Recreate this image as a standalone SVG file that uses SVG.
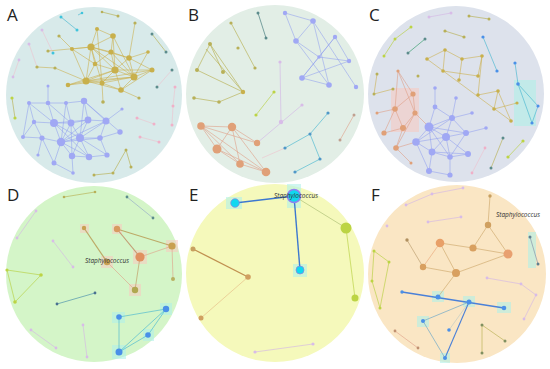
<svg xmlns="http://www.w3.org/2000/svg" width="550" height="369" viewBox="0 0 550 369">
<style>
.bg{stroke:none}
.lbl{font-family:"Open Sans","Liberation Sans",sans-serif;font-size:17px;fill:#222}
.sp{font-family:"Open Sans","Liberation Sans",sans-serif;font-size:6.5px;font-style:italic;fill:#333}
.eo{stroke:#ccae48;stroke-width:0.8;opacity:0.7}
.eb{stroke:#8e9cf0;stroke-width:0.75;opacity:0.7}
.es{stroke:#e0a088;stroke-width:0.8;opacity:0.75}
.et{stroke:#48b8d0;stroke-width:0.8;opacity:0.8}
.el{stroke:#d4b8e6;stroke-width:0.8;opacity:0.8}
.eg{stroke:#b8b050;stroke-width:0.8;opacity:0.8}
.ey{stroke:#b8d040;stroke-width:0.8;opacity:0.8}
.ep{stroke:#f4b8c8;stroke-width:0.6;opacity:0.8}
.no{fill:#c8b04c}
.nb{fill:#a0a8f4}
.ns{fill:#e0a078}
.nt{fill:#40c4dc}
.nl{fill:#d8bce8}
.ng{fill:#b8b058}
.ny{fill:#bcd444}
.nk{fill:#5c8c8c}
.np{fill:#f0b0c8}
.nc{fill:#10d8f0}
.nd{fill:#4a90e8}
.hl{fill:#b0f0e8;opacity:0.6}
.hs{fill:#f8c8c0;opacity:0.55}
</style>
<g id="panels">
<circle class="bg" cx="94" cy="95" r="88" fill="#d8eaea"/>
<circle class="bg" cx="275" cy="94" r="89" fill="#e2eee6"/>
<circle class="bg" cx="456" cy="94" r="88" fill="#dde2ec"/>
<circle class="bg" cx="94" cy="274" r="88" fill="#d4f5c8"/>
<circle class="bg" cx="275" cy="273" r="89" fill="#f5f9bb"/>
<circle class="bg" cx="457" cy="274" r="89" fill="#fae6c4"/>
</g>
<g id="panel-labels">
<text class="lbl" x="7" y="21">A</text>
<text class="lbl" x="188" y="21">B</text>
<text class="lbl" x="369" y="21">C</text>
<text class="lbl" x="7" y="201">D</text>
<text class="lbl" x="189" y="201">E</text>
<text class="lbl" x="371" y="201">F</text>
</g>
<g id="highlights">
<rect class="hs" x="80" y="224" width="9" height="9"/>
<rect class="hs" x="112" y="224" width="10" height="10"/>
<rect class="hs" x="166" y="240" width="12" height="12"/>
<rect class="hs" x="133" y="250" width="14" height="14"/>
<rect class="hs" x="101" y="256" width="12" height="12"/>
<rect class="hs" x="129" y="284" width="12" height="12"/>
<rect class="hs" x="391" y="88" width="28" height="44"/>
<rect class="hl" x="112" y="312" width="13" height="11"/>
<rect class="hl" x="160" y="303" width="12" height="12"/>
<rect class="hl" x="143" y="329" width="11" height="12"/>
<rect class="hl" x="112" y="345" width="14" height="14"/>
<rect class="hl" x="226" y="197" width="16" height="12"/>
<rect class="hl" x="287" y="184" width="14" height="24"/>
<rect class="hl" x="293" y="264" width="14" height="13"/>
<rect class="hl" x="432" y="291" width="12" height="11"/>
<rect class="hl" x="463" y="296" width="12" height="11"/>
<rect class="hl" x="497" y="302" width="14" height="11"/>
<rect class="hl" x="417" y="316" width="12" height="11"/>
<rect class="hl" x="440" y="353" width="10" height="10"/>
<rect class="hl" x="528" y="232" width="8" height="36"/>
<rect class="hl" x="514" y="80" width="22" height="46"/>
</g>
<g id="connectors">
<!-- Panel A orange -->
<line class="eo" x1="97" y1="29" x2="113" y2="36"/><line class="eo" x1="97" y1="29" x2="91" y2="47"/><line class="eo" x1="113" y1="36" x2="91" y2="47"/>
<line class="eo" x1="113" y1="36" x2="111" y2="52"/><line class="eo" x1="113" y1="36" x2="115" y2="70"/><line class="eo" x1="113" y1="36" x2="134" y2="77"/>
<line class="eo" x1="91" y1="47" x2="111" y2="52"/><line class="eo" x1="91" y1="47" x2="95" y2="64"/><line class="eo" x1="91" y1="47" x2="115" y2="70"/>
<line class="eo" x1="91" y1="47" x2="86" y2="81"/><line class="eo" x1="91" y1="47" x2="102" y2="83"/><line class="eo" x1="91" y1="47" x2="129" y2="58"/>
<line class="eo" x1="111" y1="52" x2="129" y2="58"/><line class="eo" x1="111" y1="52" x2="115" y2="70"/><line class="eo" x1="111" y1="52" x2="134" y2="77"/>
<line class="eo" x1="111" y1="52" x2="95" y2="64"/><line class="eo" x1="129" y1="58" x2="134" y2="77"/><line class="eo" x1="129" y1="58" x2="115" y2="70"/>
<line class="eo" x1="129" y1="58" x2="152" y2="70"/><line class="eo" x1="129" y1="58" x2="148" y2="52"/><line class="eo" x1="148" y1="52" x2="134" y2="77"/>
<line class="eo" x1="115" y1="70" x2="134" y2="77"/><line class="eo" x1="115" y1="70" x2="86" y2="81"/><line class="eo" x1="115" y1="70" x2="102" y2="83"/>
<line class="eo" x1="115" y1="70" x2="121" y2="90"/><line class="eo" x1="115" y1="70" x2="152" y2="70"/><line class="eo" x1="152" y1="70" x2="134" y2="77"/>
<line class="eo" x1="152" y1="70" x2="121" y2="90"/><line class="eo" x1="134" y1="77" x2="121" y2="90"/><line class="eo" x1="134" y1="77" x2="102" y2="83"/>
<line class="eo" x1="86" y1="81" x2="102" y2="83"/><line class="eo" x1="86" y1="81" x2="68" y2="85"/><line class="eo" x1="86" y1="81" x2="121" y2="90"/>
<line class="eo" x1="102" y1="83" x2="121" y2="90"/><line class="eo" x1="86" y1="81" x2="134" y2="77"/><line class="eo" x1="95" y1="64" x2="86" y2="81"/>
<line class="eo" x1="95" y1="64" x2="115" y2="70"/><line class="eo" x1="72" y1="49" x2="91" y2="47"/><line class="eo" x1="72" y1="49" x2="86" y2="81"/>
<line class="eo" x1="72" y1="49" x2="95" y2="64"/><line class="eo" x1="68" y1="85" x2="115" y2="70"/><line class="eo" x1="68" y1="85" x2="134" y2="77"/>
<line class="eo" x1="55" y1="68" x2="86" y2="81"/><line class="eo" x1="37" y1="67" x2="55" y2="68"/><line class="eo" x1="48" y1="51" x2="91" y2="47"/>
<line class="eo" x1="59" y1="36" x2="72" y2="49"/><line class="eo" x1="97" y1="29" x2="102" y2="83"/><line class="eo" x1="102" y1="83" x2="103" y2="102"/>
<line class="eo" x1="121" y1="90" x2="139" y2="98"/><line class="eo" x1="135" y1="23" x2="129" y2="58"/><line class="eo" x1="86" y1="81" x2="152" y2="70"/>
<line class="eo" x1="91" y1="47" x2="134" y2="77"/>
<!-- Panel A blue -->
<line class="eb" x1="29" y1="103" x2="48" y2="103"/><line class="eb" x1="48" y1="103" x2="66" y2="103"/><line class="eb" x1="66" y1="103" x2="84" y2="101"/>
<line class="eb" x1="29" y1="103" x2="34" y2="122"/><line class="eb" x1="29" y1="103" x2="23" y2="137"/><line class="eb" x1="48" y1="103" x2="54" y2="123"/>
<line class="eb" x1="66" y1="103" x2="71" y2="123"/><line class="eb" x1="84" y1="101" x2="88" y2="120"/><line class="eb" x1="84" y1="101" x2="106" y2="121"/>
<line class="eb" x1="34" y1="122" x2="54" y2="123"/><line class="eb" x1="54" y1="123" x2="71" y2="123"/><line class="eb" x1="71" y1="123" x2="88" y2="120"/>
<line class="eb" x1="88" y1="120" x2="106" y2="121"/><line class="eb" x1="34" y1="122" x2="42" y2="138"/><line class="eb" x1="54" y1="123" x2="61" y2="142"/>
<line class="eb" x1="71" y1="123" x2="61" y2="142"/><line class="eb" x1="71" y1="123" x2="80" y2="138"/><line class="eb" x1="88" y1="120" x2="80" y2="138"/>
<line class="eb" x1="106" y1="121" x2="100" y2="138"/><line class="eb" x1="106" y1="121" x2="80" y2="138"/><line class="eb" x1="23" y1="137" x2="42" y2="138"/>
<line class="eb" x1="42" y1="138" x2="61" y2="142"/><line class="eb" x1="61" y1="142" x2="80" y2="138"/><line class="eb" x1="80" y1="138" x2="100" y2="138"/>
<line class="eb" x1="100" y1="138" x2="120" y2="132"/><line class="eb" x1="61" y1="142" x2="72" y2="156"/><line class="eb" x1="61" y1="142" x2="89" y2="157"/>
<line class="eb" x1="80" y1="138" x2="72" y2="156"/><line class="eb" x1="80" y1="138" x2="89" y2="157"/><line class="eb" x1="80" y1="138" x2="107" y2="155"/>
<line class="eb" x1="72" y1="156" x2="89" y2="157"/><line class="eb" x1="89" y1="157" x2="107" y2="155"/><line class="eb" x1="61" y1="142" x2="54" y2="163"/>
<line class="eb" x1="54" y1="163" x2="73" y2="173"/><line class="eb" x1="72" y1="156" x2="73" y2="173"/><line class="eb" x1="42" y1="138" x2="38" y2="155"/>
<line class="eb" x1="54" y1="123" x2="80" y2="138"/><line class="eb" x1="54" y1="123" x2="88" y2="120"/><line class="eb" x1="48" y1="103" x2="71" y2="123"/>
<line class="eb" x1="66" y1="103" x2="61" y2="142"/><line class="eb" x1="84" y1="101" x2="80" y2="138"/><line class="eb" x1="61" y1="142" x2="100" y2="138"/>
<line class="eb" x1="61" y1="142" x2="106" y2="121"/><line class="eb" x1="54" y1="123" x2="89" y2="157"/><line class="eb" x1="71" y1="123" x2="72" y2="156"/>
<line class="eb" x1="48" y1="86" x2="48" y2="103"/><line class="eb" x1="122" y1="109" x2="106" y2="121"/><line class="eb" x1="42" y1="138" x2="54" y2="163"/>
<line class="eb" x1="100" y1="138" x2="107" y2="155"/><line class="eb" x1="88" y1="120" x2="61" y2="142"/><line class="eb" x1="84" y1="101" x2="120" y2="132"/>
<line class="eb" x1="23" y1="137" x2="34" y2="122"/><line class="eb" x1="29" y1="103" x2="54" y2="123"/>
<!-- Panel A misc -->
<line class="et" x1="61" y1="17" x2="77" y2="30"/><line class="et" x1="82" y1="13" x2="78" y2="15"/>
<line class="ep" x1="42" y1="30" x2="53" y2="53"/><line class="ep" x1="29" y1="44" x2="37" y2="67"/>
<line class="eg" x1="152" y1="34" x2="166" y2="52"/><line class="eg" x1="118" y1="16" x2="102" y2="12"/>
<line class="ep" x1="172" y1="70" x2="157" y2="87"/><line class="ep" x1="175" y1="87" x2="173" y2="106"/>
<line class="eg" x1="12" y1="98" x2="15" y2="118"/><line class="ep" x1="137" y1="118" x2="154" y2="124"/>
<line class="eg" x1="94" y1="175" x2="113" y2="173"/><line class="eg" x1="113" y1="173" x2="126" y2="150"/>
<line class="eg" x1="131" y1="167" x2="126" y2="150"/><line class="ep" x1="140" y1="137" x2="159" y2="142"/>
<line class="ep" x1="173" y1="106" x2="172" y2="125"/><line class="ep" x1="13" y1="77" x2="19" y2="60"/>
<!-- Panel B -->
<line class="eb" x1="285" y1="13" x2="313" y2="21"/><line class="eb" x1="285" y1="13" x2="296" y2="41"/><line class="eb" x1="313" y1="21" x2="296" y2="41"/>
<line class="eb" x1="313" y1="21" x2="329" y2="85"/><line class="eb" x1="313" y1="21" x2="356" y2="87"/><line class="eb" x1="296" y1="41" x2="319" y2="57"/>
<line class="eb" x1="296" y1="41" x2="329" y2="85"/><line class="eb" x1="319" y1="57" x2="349" y2="61"/><line class="eb" x1="319" y1="57" x2="302" y2="78"/>
<line class="eb" x1="335" y1="37" x2="349" y2="61"/><line class="eb" x1="349" y1="61" x2="302" y2="78"/><line class="eb" x1="335" y1="37" x2="319" y2="57"/>
<line class="eb" x1="302" y1="78" x2="329" y2="85"/><line class="eb" x1="335" y1="37" x2="302" y2="78"/>
<line stroke="#5c8c8c" stroke-width="0.8" x1="258" y1="13" x2="266" y2="38"/>
<line class="eg" x1="231" y1="23" x2="255" y2="68"/><line class="eg" x1="210" y1="44" x2="197" y2="70"/><line class="eg" x1="210" y1="44" x2="223" y2="72"/>
<line class="eg" x1="210" y1="44" x2="243" y2="92" stroke-width="1.6"/><line class="eg" x1="197" y1="70" x2="243" y2="92"/><line class="eg" x1="243" y1="92" x2="219" y2="102"/>
<line class="eg" x1="194" y1="98" x2="219" y2="102"/><line class="eg" x1="206" y1="49" x2="243" y2="92"/>
<line class="ey" x1="274" y1="92" x2="256" y2="115"/><line class="el" x1="280" y1="62" x2="281" y2="122" stroke-width="1.4"/>
<line class="el" x1="302" y1="105" x2="257" y2="143" opacity="0.5"/>
<line class="es" x1="201" y1="126" x2="232" y2="127"/><line class="es" x1="201" y1="126" x2="217" y2="149"/><line class="es" x1="201" y1="126" x2="240" y2="164"/>
<line class="es" x1="201" y1="126" x2="257" y2="143"/><line class="es" x1="232" y1="127" x2="217" y2="149"/><line class="es" x1="232" y1="127" x2="240" y2="164"/>
<line class="es" x1="232" y1="127" x2="266" y2="172"/><line class="es" x1="232" y1="127" x2="257" y2="143"/><line class="es" x1="217" y1="149" x2="240" y2="164"/>
<line class="es" x1="217" y1="149" x2="266" y2="172"/><line class="es" x1="240" y1="164" x2="266" y2="172"/><line class="es" x1="201" y1="126" x2="266" y2="172"/>
<line class="et" x1="328" y1="113" x2="310" y2="134"/><line class="et" x1="310" y1="134" x2="285" y2="148"/><line class="et" x1="310" y1="134" x2="320" y2="159"/>
<line class="et" x1="320" y1="159" x2="295" y2="172"/><line class="ep" x1="285" y1="148" x2="262" y2="158"/>
<line class="es" x1="354" y1="115" x2="340" y2="140"/>
<!-- Panel C -->
<line class="el" x1="429" y1="17" x2="451" y2="13"/><line class="eg" x1="469" y1="16" x2="489" y2="19"/><line class="eg" x1="445" y1="31" x2="464" y2="37"/>
<line class="ey" x1="411" y1="27" x2="395" y2="39"/><line class="ey" x1="395" y1="39" x2="384" y2="56"/><line x1="425" y1="39" x2="408" y2="53" stroke="#50a880" stroke-width="0.8"/>
<line class="et" x1="483" y1="37" x2="497" y2="71"/>
<line class="eo" x1="427" y1="59" x2="511" y2="121" stroke-width="2.2"/>
<line class="eo" x1="427" y1="59" x2="445" y2="50"/><line class="eo" x1="445" y1="50" x2="443" y2="71"/><line class="eo" x1="445" y1="50" x2="462" y2="59"/>
<line class="eo" x1="462" y1="59" x2="459" y2="80"/><line class="eo" x1="462" y1="59" x2="482" y2="56"/><line class="eo" x1="482" y1="56" x2="478" y2="76"/>
<line class="eo" x1="482" y1="56" x2="478" y2="95"/><line class="eo" x1="478" y1="95" x2="498" y2="91"/><line class="eo" x1="498" y1="91" x2="494" y2="109"/>
<line class="eo" x1="498" y1="91" x2="511" y2="121"/><line class="eo" x1="494" y1="109" x2="517" y2="103"/><line class="eo" x1="443" y1="71" x2="478" y2="76"/>
<line class="eo" x1="377" y1="74" x2="374" y2="94"/><line class="eo" x1="374" y1="94" x2="393" y2="89"/>
<line class="et" x1="515" y1="63" x2="518" y2="84"/><line class="et" x1="518" y1="84" x2="538" y2="106"/><line class="et" x1="538" y1="106" x2="532" y2="123"/>
<line class="et" x1="518" y1="84" x2="532" y2="123"/>
<line class="es" x1="398" y1="71" x2="413" y2="94"/><line class="es" x1="398" y1="71" x2="395" y2="109"/><line class="es" x1="413" y1="94" x2="415" y2="113"/>
<line class="es" x1="413" y1="94" x2="395" y2="109"/><line class="es" x1="395" y1="109" x2="403" y2="128"/><line class="es" x1="415" y1="113" x2="403" y2="128"/>
<line class="es" x1="403" y1="128" x2="384" y2="133"/><line class="es" x1="395" y1="109" x2="384" y2="133"/><line class="es" x1="403" y1="128" x2="396" y2="148"/>
<line class="es" x1="398" y1="71" x2="415" y2="113"/><line class="es" x1="377" y1="113" x2="395" y2="109"/><line class="es" x1="396" y1="148" x2="411" y2="163"/>
<line class="es" x1="415" y1="113" x2="396" y2="148"/>
<line class="eb" x1="435" y1="88" x2="435" y2="107"/><line class="eb" x1="435" y1="107" x2="429" y2="127"/><line class="eb" x1="435" y1="107" x2="452" y2="118"/>
<line class="eb" x1="456" y1="98" x2="452" y2="118"/><line class="eb" x1="452" y1="118" x2="472" y2="113"/><line class="eb" x1="452" y1="118" x2="466" y2="133"/>
<line class="eb" x1="452" y1="118" x2="429" y2="127" stroke-width="1.4"/><line class="eb" x1="429" y1="127" x2="446" y2="137" stroke-width="1.4"/><line class="eb" x1="429" y1="127" x2="416" y2="142" stroke-width="1.4"/>
<line class="eb" x1="446" y1="137" x2="466" y2="133"/><line class="eb" x1="446" y1="137" x2="416" y2="142" stroke-width="1.4"/><line class="eb" x1="446" y1="137" x2="452" y2="118" stroke-width="1.4"/>
<line class="eb" x1="466" y1="133" x2="486" y2="128"/><line class="eb" x1="446" y1="137" x2="432" y2="152"/><line class="eb" x1="446" y1="137" x2="450" y2="157"/>
<line class="eb" x1="446" y1="137" x2="468" y2="154"/><line class="eb" x1="416" y1="142" x2="432" y2="152"/><line class="eb" x1="432" y1="152" x2="450" y2="157"/>
<line class="eb" x1="450" y1="157" x2="468" y2="154"/><line class="eb" x1="432" y1="152" x2="429" y2="171"/><line class="eb" x1="450" y1="157" x2="450" y2="175"/>
<line class="eb" x1="429" y1="171" x2="450" y2="175"/><line class="eb" x1="429" y1="127" x2="432" y2="152"/><line class="eb" x1="429" y1="127" x2="450" y2="157"/>
<line class="eb" x1="416" y1="142" x2="429" y2="171"/><line class="eb" x1="466" y1="133" x2="450" y2="157"/><line class="eb" x1="416" y1="142" x2="452" y2="118"/>
<line class="eb" x1="429" y1="127" x2="466" y2="133"/><line class="eb" x1="432" y1="152" x2="468" y2="154"/>
<line class="es" x1="415" y1="113" x2="429" y2="127"/><line class="es" x1="396" y1="148" x2="416" y2="142"/>
<line class="eg" x1="503" y1="138" x2="491" y2="168"/><line class="ey" x1="523" y1="141" x2="508" y2="157"/>
<line class="ep" x1="485" y1="148" x2="472" y2="173"/>
<!-- Panel D -->
<line class="eg" x1="64" y1="197" x2="95" y2="192" opacity="0.5"/><line x1="127" y1="197" x2="153" y2="218" stroke="#a0b8c8" stroke-width="0.8"/>
<line class="el" x1="36" y1="211" x2="17" y2="238"/><line class="el" x1="53" y1="241" x2="73" y2="267"/>
<line x1="84" y1="228" x2="107" y2="262" stroke="#b89850" stroke-width="1.2" opacity="0.8"/>
<line x1="117" y1="229" x2="172" y2="246" stroke="#b89850" stroke-width="1.1" opacity="0.8"/>
<line x1="117" y1="229" x2="140" y2="257" stroke="#c08860" stroke-width="1.1" opacity="0.8"/>
<line x1="140" y1="257" x2="135" y2="290" stroke="#c09860" stroke-width="0.8" opacity="0.8"/>
<line class="es" x1="107" y1="262" x2="135" y2="290" opacity="0.4"/>
<line class="es" x1="140" y1="257" x2="172" y2="246" opacity="0.5"/>
<line class="es" x1="172" y1="246" x2="173" y2="279" opacity="0.4"/>
<line class="ey" x1="7" y1="270" x2="41" y2="275" stroke-width="1.1"/><line class="ey" x1="41" y1="275" x2="15" y2="302" stroke-width="1.1"/><line class="ey" x1="7" y1="270" x2="15" y2="302"/>
<line x1="57" y1="304" x2="95" y2="293" stroke="#60a0b0" stroke-width="0.8"/>
<line class="et" x1="119" y1="317" x2="166" y2="309"/><line class="et" x1="119" y1="317" x2="119" y2="352"/><line class="et" x1="166" y1="309" x2="148" y2="335"/>
<line class="et" x1="148" y1="335" x2="119" y2="352"/><line class="et" x1="166" y1="309" x2="119" y2="352" opacity="0.5"/>
<line class="el" x1="83" y1="325" x2="87" y2="357"/><line class="el" x1="31" y1="330" x2="56" y2="348"/>
<!-- Panel E -->
<line x1="235" y1="203" x2="294" y2="196" stroke="#3c78d0" stroke-width="1.4"/>
<line x1="294" y1="196" x2="300" y2="270" stroke="#3c78d0" stroke-width="1.4"/>
<line x1="294" y1="196" x2="346" y2="228" stroke="#b8c880" stroke-width="0.8"/>
<line class="ey" x1="346" y1="228" x2="355" y2="298"/>
<line x1="193" y1="249" x2="248" y2="277" stroke="#c09050" stroke-width="1.3"/>
<line x1="248" y1="277" x2="201" y2="318" stroke="#e8c890" stroke-width="0.8"/>
<line class="el" x1="255" y1="352" x2="313" y2="344"/>
<!-- Panel F -->
<line class="eo" x1="490" y1="196" x2="488" y2="225" style="stroke:#c8a060"/><line class="eo" x1="488" y1="225" x2="473" y2="248" style="stroke:#c8a060"/><line class="eo" x1="488" y1="225" x2="508" y2="254" style="stroke:#c8a060"/>
<line class="eo" x1="473" y1="248" x2="508" y2="254" style="stroke:#c8a060"/><line class="eo" x1="473" y1="248" x2="440" y2="243" style="stroke:#c8a060"/><line class="eo" x1="440" y1="243" x2="423" y2="267" style="stroke:#e8a070"/>
<line class="eo" x1="440" y1="243" x2="456" y2="273" style="stroke:#c8a060"/><line class="eo" x1="423" y1="267" x2="456" y2="273" style="stroke:#c8a060"/><line class="eo" x1="456" y1="273" x2="508" y2="254" style="stroke:#c8a060"/>
<line class="eo" x1="407" y1="240" x2="423" y2="267" style="stroke:#b09060"/><line class="eo" x1="456" y1="273" x2="438" y2="297" style="stroke:#c8a060"/>
<line x1="402" y1="292" x2="504" y2="308" stroke="#4a80d8" stroke-width="1.3"/>
<line x1="469" y1="302" x2="423" y2="321" stroke="#80b0c8" stroke-width="0.8"/><line x1="469" y1="302" x2="445" y2="358" stroke="#4a80d8" stroke-width="1.1"/>
<line x1="423" y1="321" x2="445" y2="358" stroke="#80b0c8" stroke-width="0.8"/><line x1="469" y1="302" x2="449" y2="330" stroke="#80b0c8" stroke-width="0.8" opacity="0.4"/>
<line class="el" x1="406" y1="205" x2="432" y2="194"/><line class="el" x1="432" y1="194" x2="463" y2="188"/><line class="el" x1="428" y1="222" x2="461" y2="217"/>
<line class="ey" x1="374" y1="251" x2="389" y2="262"/><line class="ey" x1="389" y1="262" x2="380" y2="308"/><line class="ey" x1="374" y1="251" x2="372" y2="281"/>
<line class="ey" x1="372" y1="281" x2="380" y2="308"/>
<line x1="530" y1="237" x2="538" y2="264" stroke="#90a0b0" stroke-width="0.8"/>
<line class="el" x1="487" y1="278" x2="521" y2="284"/><line class="el" x1="521" y1="284" x2="536" y2="295"/><line class="el" x1="536" y1="295" x2="524" y2="319"/>
<line class="es" x1="395" y1="331" x2="418" y2="348"/>
<line class="eg" x1="482" y1="325" x2="505" y2="341"/><line class="eg" x1="482" y1="325" x2="482" y2="353" opacity="0.4"/>
</g>
<g id="nodes">
<!-- Panel A orange -->
<g id="A-o1"><circle class="no" cx="97" cy="29" r="2"/></g>
<g id="A-o2"><circle class="no" cx="113" cy="36" r="2.8"/></g>
<g id="A-o3"><circle class="no" cx="72" cy="49" r="2"/></g>
<g id="A-o4"><circle class="no" cx="91" cy="47" r="3.6"/></g>
<g id="A-o5"><circle class="no" cx="111" cy="52" r="2.6"/></g>
<g id="A-o6"><circle class="no" cx="129" cy="58" r="2.8"/></g>
<g id="A-o7"><circle class="no" cx="148" cy="52" r="1.8"/></g>
<g id="A-o8"><circle class="no" cx="95" cy="64" r="2.3"/></g>
<g id="A-o9"><circle class="no" cx="115" cy="70" r="3.6"/></g>
<g id="A-o10"><circle class="no" cx="152" cy="70" r="2.5"/></g>
<g id="A-o11"><circle class="no" cx="134" cy="77" r="3.5"/></g>
<g id="A-o12"><circle class="no" cx="86" cy="81" r="3.5"/></g>
<g id="A-o13"><circle class="no" cx="102" cy="83" r="2.5"/></g>
<g id="A-o14"><circle class="no" cx="121" cy="90" r="2.8"/></g>
<g id="A-o15"><circle class="no" cx="68" cy="85" r="2.3"/></g>
<g id="A-o16"><circle class="ng" cx="55" cy="68" r="1.6"/></g>
<g id="A-o17"><circle class="ng" cx="37" cy="67" r="1.6"/></g>
<g id="A-o18"><circle class="ng" cx="48" cy="51" r="1.6"/></g>
<g id="A-o19"><circle class="ng" cx="59" cy="36" r="1.6"/></g>
<g id="A-o20"><circle class="ng" cx="103" cy="102" r="1.8"/></g>
<g id="A-o21"><circle class="ng" cx="139" cy="98" r="1.6"/></g>
<g id="A-o22"><circle class="ng" cx="135" cy="23" r="1.6"/></g>
<!-- Panel A blue -->
<g id="A-b1"><circle class="nb" cx="29" cy="103" r="2"/></g>
<g id="A-b2"><circle class="nb" cx="48" cy="103" r="2.3"/></g>
<g id="A-b3"><circle class="nb" cx="66" cy="103" r="2"/></g>
<g id="A-b4"><circle class="nb" cx="84" cy="101" r="3.2"/></g>
<g id="A-b5"><circle class="nb" cx="34" cy="122" r="2.2"/></g>
<g id="A-b6"><circle class="nb" cx="54" cy="123" r="4"/></g>
<g id="A-b7"><circle class="nb" cx="71" cy="123" r="3.4"/></g>
<g id="A-b8"><circle class="nb" cx="88" cy="120" r="3.4"/></g>
<g id="A-b9"><circle class="nb" cx="106" cy="121" r="3.5"/></g>
<g id="A-b10"><circle class="nb" cx="23" cy="137" r="2"/></g>
<g id="A-b11"><circle class="nb" cx="42" cy="138" r="2.6"/></g>
<g id="A-b12"><circle class="nb" cx="61" cy="142" r="4.2"/></g>
<g id="A-b13"><circle class="nb" cx="80" cy="138" r="4"/></g>
<g id="A-b14"><circle class="nb" cx="100" cy="138" r="2.8"/></g>
<g id="A-b15"><circle class="nb" cx="120" cy="132" r="2.7"/></g>
<g id="A-b16"><circle class="nb" cx="38" cy="155" r="1.6"/></g>
<g id="A-b17"><circle class="nb" cx="54" cy="163" r="2.5"/></g>
<g id="A-b18"><circle class="nb" cx="72" cy="156" r="3.2"/></g>
<g id="A-b19"><circle class="nb" cx="89" cy="157" r="3.2"/></g>
<g id="A-b20"><circle class="nb" cx="107" cy="155" r="2.6"/></g>
<g id="A-b21"><circle class="nb" cx="73" cy="173" r="1.8"/></g>
<g id="A-b22"><circle class="nb" cx="48" cy="86" r="1.5"/></g>
<g id="A-b23"><circle class="nb" cx="122" cy="109" r="1.6"/></g>
<!-- Panel A misc -->
<g id="A-m1"><circle class="nt" cx="61" cy="17" r="1.5"/></g>
<g id="A-m2"><circle class="nt" cx="77" cy="30" r="1.5"/></g>
<g id="A-m3"><circle class="nt" cx="82" cy="13" r="1.3"/></g>
<g id="A-m4"><circle class="nl" cx="42" cy="30" r="1.5"/></g>
<g id="A-m5"><circle class="nt" cx="53" cy="53" r="1.5"/></g>
<g id="A-m6"><circle class="nl" cx="29" cy="44" r="1.5"/></g>
<g id="A-m7"><circle class="nk" cx="152" cy="34" r="1.5"/></g>
<g id="A-m8"><circle class="nk" cx="166" cy="52" r="1.5"/></g>
<g id="A-m9"><circle class="ng" cx="118" cy="16" r="1.5"/></g>
<g id="A-m10"><circle class="ng" cx="102" cy="12" r="1.3"/></g>
<g id="A-m11"><circle class="nk" cx="172" cy="70" r="1.5"/></g>
<g id="A-m12"><circle class="nk" cx="157" cy="87" r="1.5"/></g>
<g id="A-m13"><circle class="np" cx="175" cy="87" r="1.5"/></g>
<g id="A-m14"><circle class="np" cx="173" cy="106" r="1.5"/></g>
<g id="A-m15"><circle class="ny" cx="12" cy="98" r="1.6"/></g>
<g id="A-m16"><circle class="ny" cx="15" cy="118" r="1.6"/></g>
<g id="A-m17"><circle class="np" cx="137" cy="118" r="1.5"/></g>
<g id="A-m18"><circle class="np" cx="154" cy="124" r="1.5"/></g>
<g id="A-m19"><circle class="ng" cx="94" cy="175" r="1.5"/></g>
<g id="A-m20"><circle class="ng" cx="113" cy="173" r="1.5"/></g>
<g id="A-m21"><circle class="ng" cx="126" cy="150" r="1.5"/></g>
<g id="A-m22"><circle class="ng" cx="131" cy="167" r="1.5"/></g>
<g id="A-m23"><circle class="np" cx="140" cy="137" r="1.5"/></g>
<g id="A-m24"><circle class="np" cx="159" cy="142" r="1.5"/></g>
<g id="A-m25"><circle class="np" cx="172" cy="125" r="1.5"/></g>
<g id="A-m26"><circle class="nl" cx="13" cy="77" r="1.4"/></g>
<g id="A-m27"><circle class="nl" cx="19" cy="60" r="1.4"/></g>
<!-- Panel B -->
<g id="B-b1"><circle class="nb" cx="285" cy="13" r="2.2"/></g>
<g id="B-b2"><circle class="nb" cx="313" cy="21" r="2.8"/></g>
<g id="B-b3"><circle class="nb" cx="296" cy="41" r="2.8"/></g>
<g id="B-b4"><circle class="nb" cx="335" cy="37" r="2.2"/></g>
<g id="B-b5"><circle class="nb" cx="319" cy="57" r="1.8"/></g>
<g id="B-b6"><circle class="nb" cx="349" cy="61" r="2.2"/></g>
<g id="B-b7"><circle class="nb" cx="302" cy="78" r="2.8"/></g>
<g id="B-b8"><circle class="nb" cx="329" cy="85" r="2.8"/></g>
<g id="B-b9"><circle class="nb" cx="356" cy="87" r="2.2"/></g>
<g id="B-k1"><circle class="nk" cx="258" cy="13" r="1.5"/></g>
<g id="B-k2"><circle class="nk" cx="266" cy="38" r="1.5"/></g>
<g id="B-g1"><circle class="ng" cx="231" cy="23" r="1.6"/></g>
<g id="B-g2"><circle class="ng" cx="255" cy="68" r="1.6"/></g>
<g id="B-g3"><circle class="ng" cx="238" cy="48" r="1.6"/></g>
<g id="B-g4"><circle class="ng" cx="210" cy="44" r="2"/></g>
<g id="B-g5"><circle class="ng" cx="197" cy="70" r="2"/></g>
<g id="B-g6"><circle class="ng" cx="223" cy="72" r="2"/></g>
<g id="B-g7"><circle class="no" cx="243" cy="92" r="2.2"/></g>
<g id="B-g8"><circle class="ng" cx="194" cy="98" r="1.8"/></g>
<g id="B-g9"><circle class="ng" cx="219" cy="102" r="1.8"/></g>
<g id="B-y1"><circle class="ny" cx="274" cy="92" r="1.6"/></g>
<g id="B-y2"><circle class="ny" cx="256" cy="115" r="1.6"/></g>
<g id="B-l1"><circle class="nl" cx="280" cy="62" r="1.6"/></g>
<g id="B-l2"><circle class="nl" cx="281" cy="122" r="2.2"/></g>
<g id="B-l3"><circle class="nl" cx="302" cy="105" r="1.6"/></g>
<g id="B-s1"><circle class="ns" cx="201" cy="126" r="3.8" fill="#d4a878"/></g>
<g id="B-s2"><circle class="ns" cx="232" cy="127" r="4.2" fill="#d4a878"/></g>
<g id="B-s3"><circle class="ns" cx="217" cy="149" r="4.5" fill="#d0a878"/></g>
<g id="B-s4"><circle class="ns" cx="257" cy="143" r="3.2" fill="#c8b080"/></g>
<g id="B-s5"><circle class="ns" cx="240" cy="164" r="3.8" fill="#d4a878"/></g>
<g id="B-s6"><circle class="ns" cx="266" cy="172" r="4.3"/></g>
<g id="B-t1"><circle cx="328" cy="113" r="1.6" fill="#5098c8"/></g>
<g id="B-t2"><circle cx="310" cy="134" r="1.6" fill="#5098c8"/></g>
<g id="B-t3"><circle cx="285" cy="148" r="1.6" fill="#5098c8"/></g>
<g id="B-t4"><circle cx="320" cy="159" r="1.6" fill="#5098c8"/></g>
<g id="B-t5"><circle cx="295" cy="172" r="1.6" fill="#5098c8"/></g>
<g id="B-r1"><circle cx="354" cy="115" r="1.5" fill="#c0a090"/></g>
<g id="B-r2"><circle cx="340" cy="140" r="1.5" fill="#c0a090"/></g>
<!-- Panel C -->
<g id="C-m1"><circle class="nl" cx="429" cy="17" r="1.5"/></g>
<g id="C-m2"><circle class="nl" cx="451" cy="13" r="1.5"/></g>
<g id="C-m3"><circle class="ng" cx="469" cy="16" r="1.5"/></g>
<g id="C-m4"><circle class="ng" cx="489" cy="19" r="1.5"/></g>
<g id="C-m5"><circle class="ng" cx="445" cy="31" r="1.6"/></g>
<g id="C-m6"><circle class="ng" cx="464" cy="37" r="1.6"/></g>
<g id="C-m7"><circle class="ny" cx="411" cy="27" r="1.5"/></g>
<g id="C-m8"><circle class="ny" cx="395" cy="39" r="1.5"/></g>
<g id="C-m9"><circle class="ny" cx="384" cy="56" r="1.5"/></g>
<g id="C-m10"><circle class="nk" cx="425" cy="39" r="1.5"/></g>
<g id="C-m11"><circle class="nk" cx="408" cy="53" r="1.5"/></g>
<g id="C-m12"><circle class="nd" cx="483" cy="37" r="1.6"/></g>
<g id="C-m13"><circle class="nd" cx="497" cy="71" r="1.6"/></g>
<g id="C-o1"><circle class="no" cx="427" cy="59" r="1.8"/></g>
<g id="C-o2"><circle class="no" cx="445" cy="50" r="1.8"/></g>
<g id="C-o3"><circle class="no" cx="443" cy="71" r="1.8"/></g>
<g id="C-o4"><circle class="no" cx="462" cy="59" r="1.8"/></g>
<g id="C-o5"><circle class="no" cx="459" cy="80" r="1.8"/></g>
<g id="C-o6"><circle class="no" cx="482" cy="56" r="1.8"/></g>
<g id="C-o7"><circle class="no" cx="478" cy="76" r="1.8"/></g>
<g id="C-o8"><circle class="no" cx="478" cy="95" r="1.8"/></g>
<g id="C-o9"><circle class="no" cx="498" cy="91" r="1.8"/></g>
<g id="C-o10"><circle class="no" cx="494" cy="109" r="1.8"/></g>
<g id="C-o11"><circle class="no" cx="517" cy="103" r="1.6"/></g>
<g id="C-o12"><circle class="no" cx="511" cy="121" r="1.8"/></g>
<g id="C-o13"><circle class="ng" cx="377" cy="74" r="1.5"/></g>
<g id="C-o14"><circle class="ng" cx="393" cy="89" r="1.5"/></g>
<g id="C-o15"><circle class="ng" cx="374" cy="94" r="1.5"/></g>
<g id="C-o16"><circle class="ng" cx="418" cy="76" r="1.5"/></g>
<g id="C-t1"><circle class="nd" cx="515" cy="63" r="1.6"/></g>
<g id="C-t2"><circle class="nd" cx="518" cy="84" r="1.8"/></g>
<g id="C-t3"><circle class="nd" cx="538" cy="106" r="1.6"/></g>
<g id="C-t4"><circle class="nd" cx="532" cy="123" r="1.6"/></g>
<g id="C-s1"><circle class="ns" cx="398" cy="71" r="1.6"/></g>
<g id="C-s2"><circle class="ns" cx="413" cy="94" r="2.6" fill="#d8a878"/></g>
<g id="C-s3"><circle class="ns" cx="395" cy="109" r="2.8" fill="#d8a878"/></g>
<g id="C-s4"><circle class="ns" cx="415" cy="113" r="2.6" fill="#d8a878"/></g>
<g id="C-s5"><circle class="ns" cx="403" cy="128" r="3" fill="#d8a878"/></g>
<g id="C-s6"><circle class="ns" cx="384" cy="133" r="2.6" fill="#d8a878"/></g>
<g id="C-s7"><circle class="ns" cx="396" cy="148" r="2.8"/></g>
<g id="C-s8"><circle class="ns" cx="377" cy="113" r="1.5"/></g>
<g id="C-s9"><circle class="ns" cx="411" cy="163" r="1.5"/></g>
<g id="C-b1"><circle class="nb" cx="435" cy="88" r="1.8"/></g>
<g id="C-b2"><circle class="nb" cx="456" cy="98" r="1.8"/></g>
<g id="C-b3"><circle class="nb" cx="435" cy="107" r="2.4"/></g>
<g id="C-b4"><circle class="nb" cx="472" cy="113" r="1.8"/></g>
<g id="C-b5"><circle class="nb" cx="452" cy="118" r="3"/></g>
<g id="C-b6"><circle class="nb" cx="429" cy="127" r="4.5"/></g>
<g id="C-b7"><circle class="nb" cx="466" cy="133" r="3"/></g>
<g id="C-b8"><circle class="nb" cx="486" cy="128" r="1.8"/></g>
<g id="C-b9"><circle class="nb" cx="446" cy="137" r="4"/></g>
<g id="C-b10"><circle class="nb" cx="416" cy="142" r="3.8"/></g>
<g id="C-b11"><circle class="nb" cx="432" cy="152" r="3.4"/></g>
<g id="C-b12"><circle class="nb" cx="450" cy="157" r="2.8"/></g>
<g id="C-b13"><circle class="nb" cx="468" cy="154" r="3"/></g>
<g id="C-b14"><circle class="nb" cx="429" cy="171" r="3"/></g>
<g id="C-b15"><circle class="nb" cx="450" cy="175" r="2.6"/></g>
<g id="C-x1"><circle class="nk" cx="503" cy="138" r="1.5"/></g>
<g id="C-x2"><circle class="nk" cx="491" cy="168" r="1.5"/></g>
<g id="C-x3"><circle class="ny" cx="523" cy="141" r="1.6"/></g>
<g id="C-x4"><circle class="ny" cx="508" cy="157" r="1.6"/></g>
<g id="C-x5"><circle class="np" cx="472" cy="173" r="1.4"/></g>
<g id="C-x6"><circle class="np" cx="485" cy="148" r="1.4"/></g>
<!-- Panel D -->
<g id="D-m1"><circle class="ng" cx="64" cy="197" r="1.3"/></g>
<g id="D-m2"><circle class="ng" cx="95" cy="192" r="1.3"/></g>
<g id="D-m3"><circle class="nk" cx="127" cy="197" r="1.4"/></g>
<g id="D-m4"><circle class="nk" cx="153" cy="218" r="1.4"/></g>
<g id="D-m5"><circle class="nl" cx="36" cy="211" r="1.4"/></g>
<g id="D-m6"><circle class="nl" cx="17" cy="238" r="1.4"/></g>
<g id="D-m7"><circle class="nl" cx="53" cy="241" r="1.4"/></g>
<g id="D-m8"><circle class="nl" cx="73" cy="267" r="1.4"/></g>
<g id="D-o1"><circle cx="84" cy="228" r="2.2" fill="#c8a050"/></g>
<g id="D-o2"><circle cx="117" cy="229" r="3.2" fill="#d89a60"/></g>
<g id="D-o3"><circle cx="172" cy="246" r="3.6" fill="#c8a050"/></g>
<g id="D-o4"><circle cx="140" cy="257" r="4.6" fill="#e09060"/></g>
<g id="D-o5"><circle cx="107" cy="262" r="3.2" fill="#c8a050"/></g>
<g id="D-o6"><circle cx="173" cy="279" r="2" fill="#b8b060"/></g>
<g id="D-o7"><circle cx="135" cy="290" r="3.2" fill="#b0a850"/></g>
<g id="D-y1"><circle class="ny" cx="7" cy="270" r="1.6"/></g>
<g id="D-y2"><circle class="ny" cx="41" cy="275" r="1.8"/></g>
<g id="D-y3"><circle class="ny" cx="15" cy="302" r="1.8"/></g>
<g id="D-k1"><circle cx="57" cy="304" r="1.4" fill="#4a7090"/></g>
<g id="D-k2"><circle cx="95" cy="293" r="1.4" fill="#4a7090"/></g>
<g id="D-d1"><circle class="nd" cx="119" cy="317" r="2.8"/></g>
<g id="D-d2"><circle class="nd" cx="166" cy="309" r="3.2"/></g>
<g id="D-d3"><circle class="nd" cx="148" cy="335" r="2.8"/></g>
<g id="D-d4"><circle class="nd" cx="119" cy="352" r="3.5"/></g>
<g id="D-l1"><circle class="nl" cx="83" cy="325" r="1.4"/></g>
<g id="D-l2"><circle class="nl" cx="87" cy="357" r="1.4"/></g>
<g id="D-l3"><circle class="nl" cx="31" cy="330" r="1.4"/></g>
<g id="D-l4"><circle class="nl" cx="56" cy="348" r="1.4"/></g>
<!-- Panel E -->
<g id="E-c1"><circle class="nc" cx="235" cy="203" r="4.3" stroke="#9080e0" stroke-width="0.7"/></g>
<g id="E-staph"><circle class="nc" cx="294" cy="196" r="6.5" stroke="#9080f0" stroke-width="1.5"/></g>
<g id="E-c2"><circle class="nc" cx="300" cy="270" r="4" stroke="#9080e0" stroke-width="0.7"/></g>
<g id="E-y1"><circle class="ny" cx="346" cy="228" r="5.5"/></g>
<g id="E-y2"><circle class="ny" cx="355" cy="298" r="3.5"/></g>
<g id="E-o1"><circle cx="193" cy="249" r="2.5" fill="#c8a060"/></g>
<g id="E-o2"><circle cx="248" cy="277" r="2.8" fill="#d0a060"/></g>
<g id="E-o3"><circle cx="201" cy="318" r="2.5" fill="#d0a060"/></g>
<g id="E-l1"><circle class="nl" cx="255" cy="352" r="1.6"/></g>
<g id="E-l2"><circle class="nl" cx="313" cy="344" r="1.6"/></g>
<!-- Panel F -->
<g id="F-o1"><circle cx="490" cy="196" r="1.7" fill="#c8a060"/></g>
<g id="F-o2"><circle cx="488" cy="225" r="3.2" fill="#d0a060"/></g>
<g id="F-o3"><circle cx="508" cy="254" r="4.5" fill="#e8a070"/></g>
<g id="F-o4"><circle cx="473" cy="248" r="3.6" fill="#d8a060"/></g>
<g id="F-o5"><circle cx="440" cy="243" r="4.3" fill="#e8a068"/></g>
<g id="F-o6"><circle cx="407" cy="240" r="1.7" fill="#b09060"/></g>
<g id="F-o7"><circle cx="423" cy="267" r="3.2" fill="#d8a060"/></g>
<g id="F-o8"><circle cx="456" cy="273" r="4" fill="#d8a060"/></g>
<g id="F-d1"><circle class="nd" cx="402" cy="292" r="1.7"/></g>
<g id="F-d2"><circle class="nd" cx="438" cy="297" r="2.5"/></g>
<g id="F-d3"><circle class="nd" cx="469" cy="302" r="2.5"/></g>
<g id="F-d4"><circle class="nd" cx="504" cy="308" r="2.3"/></g>
<g id="F-d5"><circle class="nd" cx="423" cy="321" r="2"/></g>
<g id="F-d6"><circle class="nd" cx="449" cy="330" r="1.8"/></g>
<g id="F-d7"><circle class="nd" cx="445" cy="358" r="2"/></g>
<g id="F-y1"><circle class="ny" cx="374" cy="251" r="1.5"/></g>
<g id="F-y2"><circle class="ny" cx="389" cy="262" r="1.5"/></g>
<g id="F-y3"><circle class="ny" cx="372" cy="281" r="1.5"/></g>
<g id="F-y4"><circle class="ny" cx="380" cy="308" r="1.5"/></g>
<g id="F-l1"><circle class="nl" cx="406" cy="205" r="1.4"/></g>
<g id="F-l2"><circle class="nl" cx="432" cy="194" r="1.4"/></g>
<g id="F-l3"><circle class="nl" cx="463" cy="188" r="1.4"/></g>
<g id="F-l4"><circle class="nl" cx="387" cy="226" r="1.4"/></g>
<g id="F-l5"><circle class="nl" cx="428" cy="222" r="1.4"/></g>
<g id="F-l6"><circle class="nl" cx="461" cy="217" r="1.4"/></g>
<g id="F-k1"><circle cx="530" cy="237" r="1.5" fill="#608090"/></g>
<g id="F-k2"><circle cx="538" cy="264" r="1.5" fill="#608090"/></g>
<g id="F-l7"><circle class="nl" cx="487" cy="278" r="1.4"/></g>
<g id="F-l8"><circle class="nl" cx="521" cy="284" r="1.4"/></g>
<g id="F-l9"><circle class="nl" cx="536" cy="295" r="1.4"/></g>
<g id="F-l10"><circle class="nl" cx="524" cy="319" r="1.4"/></g>
<g id="F-s1"><circle cx="395" cy="331" r="1.4" fill="#c09070"/></g>
<g id="F-s2"><circle cx="418" cy="348" r="1.4" fill="#c09070"/></g>
<g id="F-g1"><circle cx="482" cy="325" r="1.5" fill="#809060"/></g>
<g id="F-g2"><circle cx="505" cy="341" r="1.5" fill="#809060"/></g>
<g id="F-g3"><circle cx="482" cy="353" r="1.5" fill="#809060"/></g>
</g>
<g id="node-labels">
<text class="sp" x="85" y="263">Staphylococcus</text>
<text class="sp" x="274" y="198">Staphylococcus</text>
<text class="sp" x="496" y="217">Staphylococcus</text>
</g>
</svg>
